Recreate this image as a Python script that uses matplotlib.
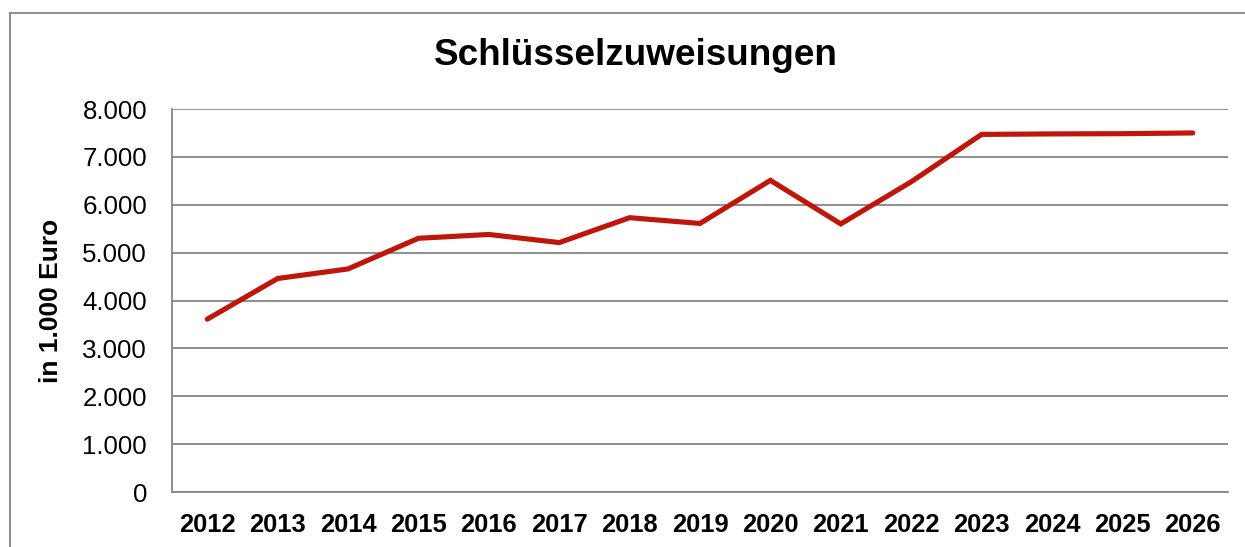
import matplotlib
matplotlib.use("Agg")
import matplotlib.pyplot as plt
from matplotlib.ticker import FuncFormatter
from matplotlib.lines import Line2D

# data (in 1.000 Euro)
years = ["2012", "2013", "2014", "2015", "2016", "2017", "2018", "2019",
         "2020", "2021", "2022", "2023", "2024", "2025", "2026"]
values = [3610, 4460, 4660, 5300, 5380, 5210, 5730, 5610,
          6510, 5600, 6480, 7470, 7480, 7485, 7500]
y_ticks = [0, 1000, 2000, 3000, 4000, 5000, 6000, 7000, 8000]

plt.rcParams['font.family'] = ['Liberation Sans', 'DejaVu Sans']

fig = plt.figure(figsize=(12.45, 5.47), dpi=100)
ax = fig.add_axes([0.1382, 0.1005, 0.8481, 0.7002])

x = list(range(len(years)))
ax.plot(x, values, color="#C0150A", linewidth=3.7, solid_capstyle="round",
        solid_joinstyle="miter", zorder=3)

ax.set_xlim(-0.5, len(years) - 0.5)
ax.set_ylim(0, 8000)
ax.set_yticks(y_ticks)
ax.yaxis.set_major_formatter(FuncFormatter(lambda v, p: f"{int(v):,}".replace(",", ".")))
ax.set_xticks(x)
ax.set_xticklabels(years, fontweight="bold")

ax.grid(axis="y", color="#868686", linewidth=1.3)
ax.set_axisbelow(True)
for s in ["top", "right"]:
    ax.spines[s].set_visible(False)
for s in ["left", "bottom"]:
    ax.spines[s].set_color("#868686")
    ax.spines[s].set_linewidth(1.3)

ax.tick_params(axis="y", length=0, pad=18, labelsize=18.6)
ax.tick_params(axis="x", length=0, pad=15, labelsize=18.4)

ax.set_ylabel("in 1.000 Euro", fontsize=19, fontweight="bold")
ax.yaxis.set_label_coords(-0.103, 0.5)

fig.text(0.511, 0.898, "Schlüsselzuweisungen", ha="center", va="center",
         fontsize=26.6, fontweight="bold")

# outer chart frame (only top and left edges visible)
fig.add_artist(Line2D([10 / 1245, 1.0], [1 - 13 / 547, 1 - 13 / 547],
                      color="#868686", linewidth=1.3))
fig.add_artist(Line2D([10 / 1245, 10 / 1245], [0.0, 1 - 13 / 547],
                      color="#868686", linewidth=1.3))

fig.savefig("out.png", dpi=100)
